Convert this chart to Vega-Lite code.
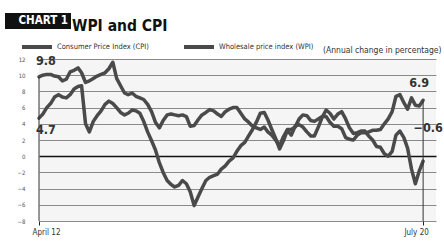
{
  "$schema": "https://vega.github.io/schema/vega-lite/v6.json",
  "width": 397,
  "height": 162,
  "autosize": {"type": "none"},
  "padding": {"left": 39, "top": 59, "right": 8, "bottom": 27},
  "background": "white",
  "config": {
    "font": "Liberation Sans Narrow, DejaVu Sans Condensed, sans-serif",
    "view": {"stroke": null, "fill": "#f5f5f5"},
    "axisY": {"labelOverlap": false, "labelSeparation": 0}
  },
  "title": {
    "text": "WPI and CPI",
    "anchor": "start",
    "frame": "group",
    "dx": 33,
    "dy": 25,
    "fontSize": 15.5,
    "fontWeight": "bold",
    "color": "#111",
    "font": "Liberation Sans Narrow, DejaVu Sans Condensed, sans-serif"
  },
  "data": {
    "values": [
      {"date": "2012/04/01", "cpi": 9.8, "wpi": 4.7},
      {"date": "2012/05/01", "cpi": 10.0, "wpi": 5.2},
      {"date": "2012/06/01", "cpi": 10.1, "wpi": 6.0},
      {"date": "2012/07/01", "cpi": 10.1, "wpi": 6.5},
      {"date": "2012/08/01", "cpi": 9.9, "wpi": 7.3},
      {"date": "2012/09/01", "cpi": 9.8, "wpi": 7.6},
      {"date": "2012/10/01", "cpi": 9.3, "wpi": 7.3},
      {"date": "2012/11/01", "cpi": 9.5, "wpi": 7.2},
      {"date": "2012/12/01", "cpi": 10.4, "wpi": 7.6},
      {"date": "2013/01/01", "cpi": 10.6, "wpi": 8.3},
      {"date": "2013/02/01", "cpi": 10.9, "wpi": 8.6},
      {"date": "2013/03/01", "cpi": 10.3, "wpi": 8.7},
      {"date": "2013/04/01", "cpi": 9.1, "wpi": 4.0},
      {"date": "2013/05/01", "cpi": 9.3, "wpi": 3.0},
      {"date": "2013/06/01", "cpi": 9.6, "wpi": 4.3},
      {"date": "2013/07/01", "cpi": 9.9, "wpi": 5.0},
      {"date": "2013/08/01", "cpi": 10.1, "wpi": 5.6},
      {"date": "2013/09/01", "cpi": 10.3, "wpi": 6.4},
      {"date": "2013/10/01", "cpi": 10.8, "wpi": 6.8},
      {"date": "2013/11/01", "cpi": 11.6, "wpi": 6.5},
      {"date": "2013/12/01", "cpi": 9.6, "wpi": 6.0},
      {"date": "2014/01/01", "cpi": 8.7, "wpi": 5.4},
      {"date": "2014/02/01", "cpi": 7.8, "wpi": 5.1},
      {"date": "2014/03/01", "cpi": 7.6, "wpi": 5.3},
      {"date": "2014/04/01", "cpi": 7.8, "wpi": 5.7},
      {"date": "2014/05/01", "cpi": 7.4, "wpi": 5.6},
      {"date": "2014/06/01", "cpi": 7.2, "wpi": 5.3},
      {"date": "2014/07/01", "cpi": 7.0, "wpi": 4.3},
      {"date": "2014/08/01", "cpi": 6.4, "wpi": 3.0},
      {"date": "2014/09/01", "cpi": 5.5, "wpi": 1.9},
      {"date": "2014/10/01", "cpi": 4.2, "wpi": 0.8},
      {"date": "2014/11/01", "cpi": 3.5, "wpi": -0.8},
      {"date": "2014/12/01", "cpi": 4.4, "wpi": -2.0},
      {"date": "2015/01/01", "cpi": 5.1, "wpi": -3.0},
      {"date": "2015/02/01", "cpi": 5.2, "wpi": -3.5},
      {"date": "2015/03/01", "cpi": 5.1, "wpi": -3.8},
      {"date": "2015/04/01", "cpi": 5.0, "wpi": -3.6},
      {"date": "2015/05/01", "cpi": 5.1, "wpi": -3.0},
      {"date": "2015/06/01", "cpi": 4.9, "wpi": -3.4},
      {"date": "2015/07/01", "cpi": 3.7, "wpi": -4.4},
      {"date": "2015/08/01", "cpi": 3.8, "wpi": -6.1},
      {"date": "2015/09/01", "cpi": 4.5, "wpi": -5.0},
      {"date": "2015/10/01", "cpi": 5.1, "wpi": -4.0},
      {"date": "2015/11/01", "cpi": 5.4, "wpi": -3.0},
      {"date": "2015/12/01", "cpi": 5.75, "wpi": -2.6},
      {"date": "2016/01/01", "cpi": 5.6, "wpi": -2.4},
      {"date": "2016/02/01", "cpi": 5.2, "wpi": -2.2},
      {"date": "2016/03/01", "cpi": 4.9, "wpi": -1.6},
      {"date": "2016/04/01", "cpi": 5.5, "wpi": -1.2},
      {"date": "2016/05/01", "cpi": 5.8, "wpi": -0.6},
      {"date": "2016/06/01", "cpi": 6.0, "wpi": -0.2},
      {"date": "2016/07/01", "cpi": 6.0, "wpi": 0.6},
      {"date": "2016/08/01", "cpi": 5.3, "wpi": 1.3},
      {"date": "2016/09/01", "cpi": 4.6, "wpi": 1.7},
      {"date": "2016/10/01", "cpi": 4.2, "wpi": 2.5},
      {"date": "2016/11/01", "cpi": 3.7, "wpi": 3.3},
      {"date": "2016/12/01", "cpi": 3.5, "wpi": 4.2},
      {"date": "2017/01/01", "cpi": 3.3, "wpi": 5.3},
      {"date": "2017/02/01", "cpi": 3.6, "wpi": 5.4},
      {"date": "2017/03/01", "cpi": 3.0, "wpi": 4.5},
      {"date": "2017/04/01", "cpi": 2.6, "wpi": 3.3},
      {"date": "2017/05/01", "cpi": 2.0, "wpi": 2.2},
      {"date": "2017/06/01", "cpi": 1.3, "wpi": 0.9},
      {"date": "2017/07/01", "cpi": 2.4, "wpi": 1.9},
      {"date": "2017/08/01", "cpi": 3.3, "wpi": 3.2},
      {"date": "2017/09/01", "cpi": 3.3, "wpi": 2.6},
      {"date": "2017/10/01", "cpi": 3.6, "wpi": 3.7},
      {"date": "2017/11/01", "cpi": 4.6, "wpi": 3.9},
      {"date": "2017/12/01", "cpi": 5.1, "wpi": 3.6},
      {"date": "2018/01/01", "cpi": 5.0, "wpi": 3.0},
      {"date": "2018/02/01", "cpi": 4.4, "wpi": 2.5},
      {"date": "2018/03/01", "cpi": 4.3, "wpi": 2.5},
      {"date": "2018/04/01", "cpi": 4.6, "wpi": 3.6},
      {"date": "2018/05/01", "cpi": 4.9, "wpi": 4.8},
      {"date": "2018/06/01", "cpi": 4.9, "wpi": 5.7},
      {"date": "2018/07/01", "cpi": 4.2, "wpi": 5.3},
      {"date": "2018/08/01", "cpi": 3.7, "wpi": 4.6},
      {"date": "2018/09/01", "cpi": 3.7, "wpi": 5.2},
      {"date": "2018/10/01", "cpi": 3.4, "wpi": 5.5},
      {"date": "2018/11/01", "cpi": 2.3, "wpi": 4.6},
      {"date": "2018/12/01", "cpi": 2.1, "wpi": 3.5},
      {"date": "2019/01/01", "cpi": 2.0, "wpi": 2.8},
      {"date": "2019/02/01", "cpi": 2.6, "wpi": 2.9},
      {"date": "2019/03/01", "cpi": 2.9, "wpi": 3.1},
      {"date": "2019/04/01", "cpi": 2.9, "wpi": 3.1},
      {"date": "2019/05/01", "cpi": 3.0, "wpi": 2.5},
      {"date": "2019/06/01", "cpi": 3.2, "wpi": 2.0},
      {"date": "2019/07/01", "cpi": 3.2, "wpi": 1.2},
      {"date": "2019/08/01", "cpi": 3.3, "wpi": 1.1},
      {"date": "2019/09/01", "cpi": 4.0, "wpi": 0.3},
      {"date": "2019/10/01", "cpi": 4.6, "wpi": 0.0},
      {"date": "2019/11/01", "cpi": 5.5, "wpi": 0.6},
      {"date": "2019/12/01", "cpi": 7.4, "wpi": 2.6},
      {"date": "2020/01/01", "cpi": 7.6, "wpi": 3.1},
      {"date": "2020/02/01", "cpi": 6.6, "wpi": 2.3},
      {"date": "2020/03/01", "cpi": 5.8, "wpi": 1.0},
      {"date": "2020/04/01", "cpi": 7.2, "wpi": -1.6},
      {"date": "2020/05/01", "cpi": 6.3, "wpi": -3.4},
      {"date": "2020/06/01", "cpi": 6.2, "wpi": -1.8},
      {"date": "2020/07/01", "cpi": 6.9, "wpi": -0.6}
    ]
  },
  "layer": [
    {
      "transform": [{"fold": ["cpi", "wpi"], "as": ["series", "value"]}],
      "mark": {"type": "line", "strokeWidth": 3.5, "strokeJoin": "round", "strokeCap": "round"},
      "encoding": {
        "x": {
          "field": "date",
          "type": "temporal",
          "scale": {"domain": [{"year": 2012, "month": 4, "date": 1}, {"year": 2020, "month": 10, "date": 10}]},
          "axis": {
            "title": null,
            "grid": false,
            "domain": false,
            "ticks": true,
            "tickSize": 4,
            "tickColor": "#222",
            "values": [{"year": 2012, "month": 4, "date": 1}, {"year": 2020, "month": 7, "date": 1}],
            "labelExpr": "year(datum.value) == 2012 ? 'April 12' : 'July 20'",
            "labelFlush": false,
            "labelAlign": "center",
            "labelOffset": {"condition": {"test": "year(datum.value) == 2012", "value": 7}, "value": -7},
            "labelFontSize": 8,
            "labelColor": "#333",
            "labelPadding": 3
          }
        },
        "y": {
          "field": "value",
          "type": "quantitative",
          "scale": {"domain": [-8, 12], "nice": false},
          "axis": {
            "title": "(Annual change in percentage)",
            "titleAngle": 0,
            "titleAlign": "right",
            "titleBaseline": "middle",
            "titleX": 402,
            "titleY": -10,
            "titleFontSize": 8.5,
            "titleFontWeight": "normal",
            "titleColor": "#333",
            "values": [-8, -6, -4, -2, 0, 2, 4, 6, 8, 10, 12],
            "tickCount": 11,
            "labelOverlap": false,
            "grid": true,
            "gridColor": {"condition": {"test": "datum.value === 0", "value": "#111"}, "value": "#8a8a8a"},
            "gridWidth": {"condition": {"test": "datum.value === 0", "value": 1.5}, "value": 1},
            "domain": false,
            "ticks": false,
            "labelFontSize": 6,
            "labelColor": "#555",
            "labelPadding": 14
          }
        },
        "color": {
          "field": "series",
          "type": "nominal",
          "scale": {"range": ["#4a4a4a", "#4a4a4a"]},
          "legend": {
            "orient": "none",
            "legendX": -19,
            "legendY": -29,
            "direction": "horizontal",
            "title": null,
            "symbolType": "stroke",
            "symbolSize": 900,
            "symbolStrokeWidth": 4,
            "labelFontSize": 7.5,
            "labelColor": "#333",
            "labelOffset": 3,
            "columnPadding": 27,
            "labelExpr": "datum.value == 'cpi' ? 'Consumer Price Index (CPI)' : 'Wholesale price index (WPI)'"
          }
        }
      }
    },
    {
      "transform": [{"filter": "(year(datum.date) == 2012 && month(datum.date) == 3) || (year(datum.date) == 2020 && month(datum.date) == 6)"}],
      "mark": {"type": "rule", "color": "#333", "strokeWidth": 1},
      "encoding": {
        "x": {"field": "date", "type": "temporal"},
        "y": {"field": "cpi", "type": "quantitative"},
        "y2": {"datum": -8}
      }
    },
    {
      "transform": [{"filter": "year(datum.date) == 2012 && month(datum.date) == 3"}],
      "mark": {"type": "text", "align": "left", "dx": -3, "dy": -16, "fontSize": 12.5, "fontWeight": "bold", "color": "#333"},
      "encoding": {
        "x": {"field": "date", "type": "temporal"},
        "y": {"field": "cpi", "type": "quantitative"},
        "text": {"field": "cpi", "type": "quantitative", "format": ".1f"}
      }
    },
    {
      "transform": [{"filter": "year(datum.date) == 2012 && month(datum.date) == 3"}],
      "mark": {"type": "text", "align": "left", "dx": -3, "dy": 12, "fontSize": 12.5, "fontWeight": "bold", "color": "#333"},
      "encoding": {
        "x": {"field": "date", "type": "temporal"},
        "y": {"field": "wpi", "type": "quantitative"},
        "text": {"field": "wpi", "type": "quantitative", "format": ".1f"}
      }
    },
    {
      "transform": [{"filter": "year(datum.date) == 2020 && month(datum.date) == 6"}],
      "mark": {"type": "text", "align": "center", "dx": -4, "dy": -17, "fontSize": 12.5, "fontWeight": "bold", "color": "#333"},
      "encoding": {
        "x": {"field": "date", "type": "temporal"},
        "y": {"field": "cpi", "type": "quantitative"},
        "text": {"field": "cpi", "type": "quantitative", "format": ".1f"}
      }
    },
    {
      "transform": [{"filter": "year(datum.date) == 2020 && month(datum.date) == 6"}],
      "mark": {"type": "text", "align": "center", "dx": 5, "dy": -33, "fontSize": 12.5, "fontWeight": "bold", "color": "#333"},
      "encoding": {
        "x": {"field": "date", "type": "temporal"},
        "y": {"field": "wpi", "type": "quantitative"},
        "text": {"field": "wpi", "type": "quantitative", "format": ".1f"}
      }
    },
    {
      "transform": [{"filter": "year(datum.date) == 2012 && month(datum.date) == 3"}],
      "mark": {"type": "point", "opacity": 0},
      "encoding": {
        "x": {"field": "date", "type": "temporal"},
        "y": {"field": "cpi", "type": "quantitative"},
        "shape": {
          "datum": "CHART 1",
          "legend": {
            "orient": "none",
            "legendX": -34,
            "legendY": -46,
            "title": null,
            "fillColor": "#111",
            "padding": 2,
            "symbolOpacity": 0,
            "symbolSize": 1,
            "labelColor": "white",
            "labelFontSize": 11.5,
            "labelFontWeight": "bold",
            "labelOffset": 0
          }
        }
      }
    }
  ]
}
